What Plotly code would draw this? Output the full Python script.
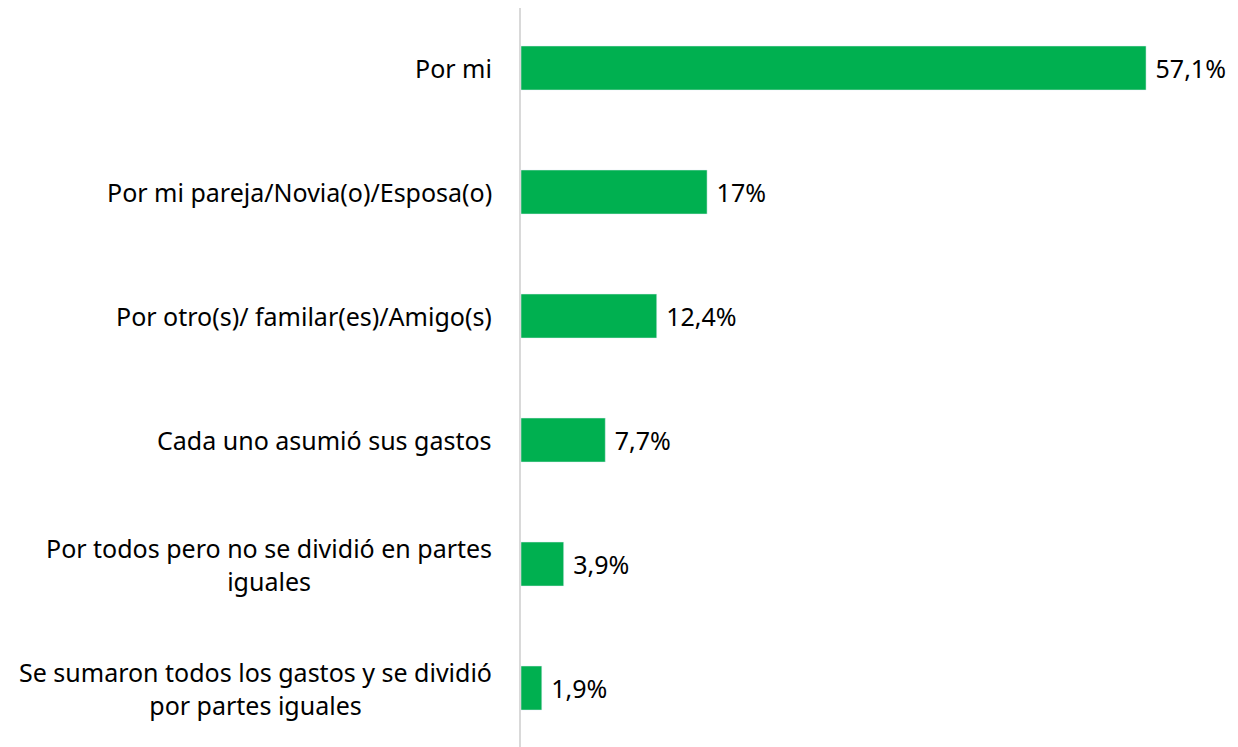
import plotly.graph_objects as go

categories = [
    "Por mi",
    "Por mi pareja/Novia(o)/Esposa(o)",
    "Por otro(s)/ familar(es)/Amigo(s)",
    "Cada uno asumió sus gastos",
    "Por todos pero no se dividió en partes<br>iguales",
    "Se sumaron todos los gastos y se dividió<br>por partes iguales",
]
values = [57.1, 17, 12.4, 7.7, 3.9, 1.9]
value_labels = ["57,1%", "17%", "12,4%", "7,7%", "3,9%", "1,9%"]

font = "Noto Sans"
ids = list(range(len(categories)))

fig = go.Figure(go.Bar(
    x=values,
    y=ids,
    orientation="h",
    marker_color="#00B050",
    text=["\u00a0" + t for t in value_labels],
    textposition="outside",
    cliponaxis=False,
    textfont=dict(family=font, size=25, color="#000000"),
    width=0.355,
))

# category labels: right-aligned block, lines centred like the original
for i, cat in enumerate(categories):
    fig.add_annotation(
        x=-0.037, xref="paper", y=i, yref="y",
        text=cat, showarrow=False,
        xanchor="right", yanchor="middle", align="center",
        font=dict(family=font, size=25, color="#000000"),
    )

fig.update_layout(
    width=1238, height=747,
    margin=dict(l=513, r=0, t=0, b=0),
    plot_bgcolor="white", paper_bgcolor="white",
    showlegend=False,
    xaxis=dict(range=[0, 66.23], visible=False),
    yaxis=dict(range=[5.54, -0.484], showticklabels=False, showgrid=False,
               zeroline=False, showline=True, linecolor="#D9D9D9", linewidth=1.5),
)

fig.write_html("out.html")
